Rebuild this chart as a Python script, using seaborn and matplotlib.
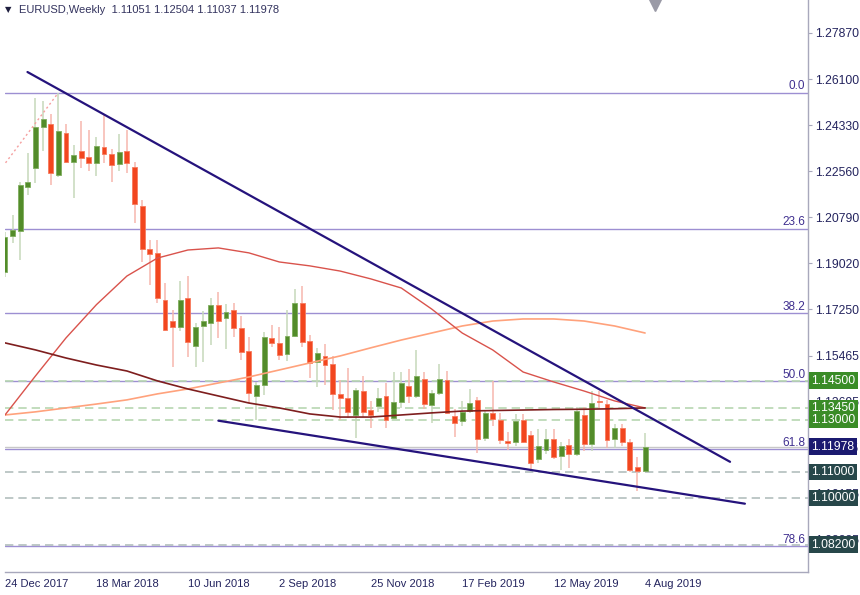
import matplotlib
matplotlib.use("Agg")
import matplotlib.pyplot as plt
import seaborn as sns
import numpy as np
import pandas as pd

# weekly EURUSD candles, week 0 = 24 Dec 2017
opens = [1.1868, 1.2005, 1.2027, 1.2194, 1.2269, 1.2425, 1.2437, 1.2241, 1.2402, 1.2292,
         1.2334, 1.2310, 1.2288, 1.2349, 1.2321, 1.2283, 1.2333, 1.2271, 1.2122, 1.1955,
         1.1943, 1.1761, 1.1681, 1.1658, 1.1768, 1.1585, 1.1662, 1.1671, 1.1742, 1.1691,
         1.1723, 1.1652, 1.1565, 1.1390, 1.1435, 1.1614, 1.1597, 1.1553, 1.1623, 1.1749,
         1.1605, 1.1522, 1.1545, 1.1514, 1.1398, 1.1386, 1.1320, 1.1411, 1.1339, 1.1354,
         1.1390, 1.1307, 1.1370, 1.1431, 1.1392, 1.1457, 1.1357, 1.1405, 1.1454, 1.1315,
         1.1295, 1.1334, 1.1377, 1.1232, 1.1326, 1.1300, 1.1219, 1.1216, 1.1301, 1.1243,
         1.1150, 1.1185, 1.1227, 1.1163, 1.1204, 1.1168, 1.1320, 1.1209, 1.1370, 1.1362,
         1.1225, 1.1270, 1.1217, 1.1119, 1.11051]
highs = [1.2023, 1.2088, 1.2216, 1.2325, 1.2538, 1.2526, 1.2475, 1.2556, 1.2436, 1.2356,
         1.2449, 1.2415, 1.2388, 1.2475, 1.2343, 1.2397, 1.2415, 1.2290, 1.2145, 1.1992,
         1.1992, 1.1827, 1.1724, 1.1835, 1.1852, 1.1671, 1.1719, 1.1768, 1.1791, 1.1746,
         1.1749, 1.1700, 1.1620, 1.1446, 1.1639, 1.1665, 1.1659, 1.1723, 1.1802, 1.1815,
         1.1627, 1.1575, 1.1590, 1.1545, 1.1454, 1.1499, 1.1422, 1.1469, 1.1371, 1.1423,
         1.1441, 1.1486, 1.1483, 1.1495, 1.1569, 1.1486, 1.1416, 1.1514, 1.1488, 1.1342,
         1.1372, 1.1420, 1.1387, 1.1339, 1.1448, 1.1325, 1.1255, 1.1324, 1.1324, 1.1256,
         1.1265, 1.1264, 1.1265, 1.1215, 1.1225, 1.1348, 1.1348, 1.1412, 1.1412, 1.1376,
         1.1286, 1.1286, 1.1228, 1.1157, 1.12504]
lows = [1.1850, 1.1979, 1.1915, 1.2164, 1.2209, 1.2334, 1.2203, 1.2234, 1.2286, 1.2152,
        1.2269, 1.2256, 1.2238, 1.2287, 1.2216, 1.2256, 1.2248, 1.2055, 1.1908, 1.1819,
        1.1749, 1.1640, 1.1505, 1.1640, 1.1543, 1.1505, 1.1524, 1.1588, 1.1615, 1.1572,
        1.1620, 1.1530, 1.1365, 1.1301, 1.1395, 1.1582, 1.1530, 1.1525, 1.1620, 1.1582,
        1.1460, 1.1428, 1.1433, 1.1339, 1.1301, 1.1307, 1.1230, 1.1313, 1.1268, 1.1332,
        1.1269, 1.1300, 1.1345, 1.1364, 1.1383, 1.1343, 1.1290, 1.1395, 1.1321, 1.1234,
        1.1276, 1.1325, 1.1173, 1.1220, 1.1275, 1.1206, 1.1183, 1.1200, 1.1210, 1.1111,
        1.1135, 1.1168, 1.1151, 1.1106, 1.1116, 1.1160, 1.1181, 1.1181, 1.1346, 1.1193,
        1.1193, 1.1200, 1.1101, 1.1025, 1.11037]
closes = [1.2004, 1.2030, 1.2203, 1.2213, 1.2427, 1.2456, 1.2248, 1.2411, 1.2292, 1.2318,
          1.2305, 1.2288, 1.2352, 1.2321, 1.2280, 1.2328, 1.2286, 1.2130, 1.1957, 1.1937,
          1.1768, 1.1645, 1.1656, 1.1762, 1.1601, 1.1656, 1.1680, 1.1742, 1.1682, 1.1713,
          1.1652, 1.1562, 1.1405, 1.1435, 1.1620, 1.1597, 1.1550, 1.1623, 1.1749, 1.1601,
          1.1518, 1.1556, 1.1510, 1.1400, 1.1386, 1.1332, 1.1415, 1.1332, 1.1320, 1.1384,
          1.1301, 1.1367, 1.1441, 1.1392, 1.1467, 1.1360, 1.1405, 1.1457, 1.1326, 1.1289,
          1.1330, 1.1365, 1.1226, 1.1326, 1.1303, 1.1221, 1.1210, 1.1295, 1.1217, 1.1136,
          1.1198, 1.1227, 1.1158, 1.1201, 1.1168, 1.1333, 1.1209, 1.1364, 1.1368, 1.1221,
          1.1270, 1.1217, 1.1108, 1.1102, 1.11978]

# moving averages read at every 4th week
ma_weeks = [0, 4, 8, 12, 16, 20, 24, 28, 32, 36, 40, 44, 48, 52, 56, 60, 64, 68, 72, 76, 80, 84]
sma50 = [1.1319, 1.1469, 1.1615, 1.1743, 1.1853, 1.1922, 1.1953, 1.1961, 1.1942, 1.1907, 1.1892,
         1.1872, 1.1842, 1.1807, 1.1726, 1.1634, 1.1569, 1.1484, 1.1446, 1.1411, 1.1373, 1.1346]
sma100 = [1.1319, 1.1331, 1.1346, 1.1361, 1.1377, 1.1400, 1.1419, 1.1442, 1.1465, 1.1492, 1.1519,
          1.1546, 1.1577, 1.1607, 1.1634, 1.1661, 1.1680, 1.1688, 1.1688, 1.1680, 1.1661, 1.1634]
sma200 = [1.1596, 1.1569, 1.1538, 1.1511, 1.1488, 1.1450, 1.1419, 1.1392, 1.1365, 1.1346, 1.1323,
          1.1311, 1.1311, 1.1319, 1.1327, 1.1334, 1.1336, 1.1338, 1.1340, 1.1341, 1.1343, 1.1346]

# trend lines (week, price)
upper_trend = [(2.95, 1.2637), (95.15, 1.1139)]
lower_trend = [(28.0, 1.1297), (97.1, 1.0978)]
fib_anchor = [(0.07, 1.2288), (6.89, 1.2553)]

fib_high, fib_low = 1.2556, 1.0340
fib_ratios = [0.0, 23.6, 38.2, 50.0, 61.8, 78.6]

levels = [1.14500, 1.13450, 1.13000, 1.11000, 1.10000, 1.08200]
level_kind = ["green", "green", "green", "dark", "dark", "dark"]
last_price = 1.11978

price_ticks = [1.27870, 1.26100, 1.24330, 1.22560, 1.20790, 1.19020, 1.17250, 1.15465,
               1.13695, 1.11925, 1.10155, 1.08385]
date_ticks = [0, 12, 24, 36, 48, 60, 72, 84]
date_labels = ["24 Dec 2017", "18 Mar 2018", "10 Jun 2018", "2 Sep 2018",
               "25 Nov 2018", "17 Feb 2019", "12 May 2019", "4 Aug 2019"]

sns.set_style("white")
plt.rcParams["font.family"] = ["Liberation Sans", "DejaVu Sans"]

fig = plt.figure(figsize=(8.6, 5.95), dpi=100)
ax = fig.add_axes([5 / 860, 23 / 595, 803 / 860, 572 / 595])
ax.set_xlim(0.066, 105.38)
ax.set_ylim(1.07155, 1.29138)

navy = "#24245e"

# fibonacci levels
rng = fib_high - fib_low
for r in fib_ratios:
    p = fib_high - rng * r / 100
    ax.axhline(p, color="#9d8fd2", lw=1.0, zorder=1)
    ax.text(0.9965, p + 0.0003, f"{r:.1f}", transform=ax.get_yaxis_transform(),
            ha="right", va="bottom", fontsize=8.5, color="#3f2f8f")

# support / resistance levels
for lv, kind in zip(levels, level_kind):
    col = "#b7d7b1" if kind == "green" else "#b3bfbd"
    ax.axhline(lv, color=col, lw=1.2, ls=(0, (5, 3)), zorder=1)
ax.axhline(last_price, color="#c8c8c8", lw=1.0, zorder=1)

# candles
df = pd.DataFrame({"week": np.arange(len(opens)), "open": opens, "high": highs,
                   "low": lows, "close": closes})
up = df["close"] >= df["open"]
wick_col = np.where(up, "#c6d8bb", "#f6b7ae")
ax.vlines(df["week"], df["low"], df["high"], colors=wick_col, lw=1.1, zorder=2)
body_h = np.maximum((df["close"] - df["open"]).abs(), 0.0003)
body_b = df[["open", "close"]].min(axis=1)
ax.bar(df["week"][up], body_h[up], bottom=body_b[up], width=0.64,
       color="#538c2a", edgecolor="#7fae5e", lw=0.6, zorder=3)
ax.bar(df["week"][~up], body_h[~up], bottom=body_b[~up], width=0.64,
       color="#f2461f", edgecolor="#f77a5c", lw=0.6, zorder=3)

# moving averages
ma = pd.DataFrame({"week": ma_weeks, "sma50": sma50, "sma100": sma100, "sma200": sma200})
sns.lineplot(data=ma, x="week", y="sma100", ax=ax, color="#ffa27c", lw=1.2, zorder=4)
sns.lineplot(data=ma, x="week", y="sma50", ax=ax, color="#d9534c", lw=1.0, zorder=4)
sns.lineplot(data=ma, x="week", y="sma200", ax=ax, color="#7e1e1e", lw=1.2, zorder=4)

# trend lines
for line in (upper_trend, lower_trend):
    xs, ys = zip(*line)
    ax.plot(xs, ys, color="#25137c", lw=1.6, zorder=5)
xs, ys = zip(*fib_anchor)
ax.plot(xs, ys, color="#f5a0a0", lw=1.0, ls=(0, (1.5, 2)), zorder=5)

# axes styling
for s in ("left", "top"):
    ax.spines[s].set_visible(False)
for s in ("right", "bottom"):
    ax.spines[s].set_color("#a8a8bc")
    ax.spines[s].set_linewidth(1.0)

ax.yaxis.tick_right()
ax.set_yticks(price_ticks)
ax.set_yticklabels([f"{t:.5f}" for t in price_ticks])
ax.tick_params(axis="y", length=3, pad=2, labelsize=8.7, color="#a8a8bc", labelcolor=navy)
ax.set_xticks(date_ticks)
ax.set_xticklabels(date_labels)
ax.tick_params(axis="x", length=3, pad=2, labelsize=8, color="#a8a8bc", labelcolor=navy)
for lbl in ax.get_xticklabels():
    lbl.set_ha("left")
ax.set_xlabel("")
ax.set_ylabel("")
ax.grid(False)

# price boxes on the right axis
box_cols = {"green": "#3a8c27", "dark": "#27474a"}
trans = ax.get_yaxis_transform()
for lv, kind in zip(levels, level_kind):
    ax.text(1.004, lv, f"{lv:.5f}", transform=trans, ha="left", va="center", fontsize=8.7,
            color="white", zorder=10, clip_on=False,
            bbox=dict(boxstyle="square,pad=0.2", fc=box_cols[kind], ec="none"))
ax.text(1.004, last_price, f"{last_price:.5f}", transform=trans, ha="left", va="center",
        fontsize=8.7, color="white", zorder=11, clip_on=False,
        bbox=dict(boxstyle="square,pad=0.2", fc="#1b1a70", ec="none"))

# header
fig.text(5 / 860, 1 - 10 / 595, "\u25bc", fontsize=6, color="#1e1e3e", va="center",
         family="DejaVu Sans")
fig.text(19 / 860, 1 - 10 / 595, "EURUSD,Weekly  1.11051 1.12504 1.11037 1.11978",
         fontsize=8, color="#33335e", va="center")
ax.plot([650 / 803], [1 - 5 / 572], marker="v", markersize=8, color="#9a9aa6",
        transform=ax.transAxes, clip_on=False, zorder=10)

fig.savefig("out.png", dpi=100, facecolor="white")
